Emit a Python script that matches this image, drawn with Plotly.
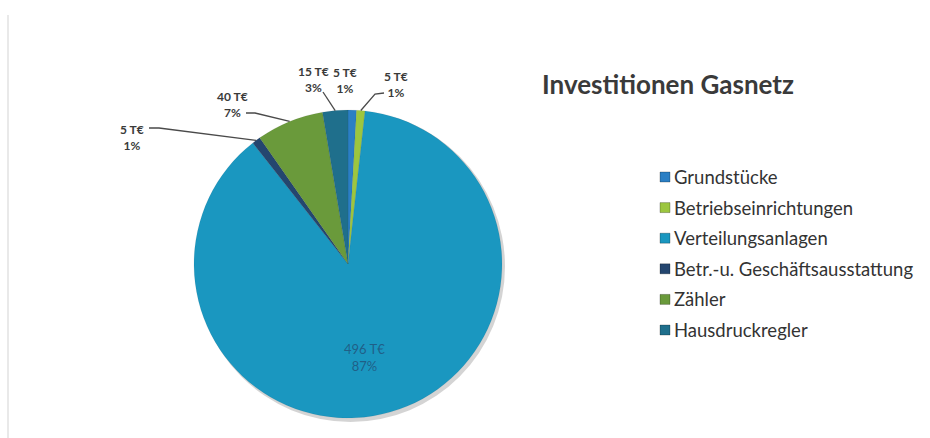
import math
import plotly.graph_objects as go

# Investment categories and amounts (T€)
categories = [
    "Grundstücke",
    "Betriebseinrichtungen",
    "Verteilungsanlagen",
    "Betr.-u. Geschäftsausstattung",
    "Zähler",
    "Hausdruckregler",
]
values_teur = [5, 5, 496, 5, 40, 15]
percent_labels = [1, 1, 87, 1, 7, 3]
colors = ["#2b7fc4", "#9cc63f", "#1a97c0", "#24466f", "#6a9a3b", "#1f6f8c"]

W, H = 930, 438
CX, CY, R = 348, 264, 154  # pie centre and radius in pixels


def px(x):
    return x / W


def py(y):
    return 1 - y / H


total = sum(values_teur)


def edge_point(i, frac=1.0):
    """Point on the ray through the middle of slice i (clockwise from 12 o'clock)."""
    start = sum(values_teur[:i]) / total * 360
    mid = math.radians(start + values_teur[i] / total * 180)
    return CX + frac * R * math.sin(mid), CY - frac * R * math.cos(mid)


fig = go.Figure()
fig.add_trace(go.Pie(
    labels=categories,
    values=values_teur,
    marker=dict(colors=colors, line=dict(color="rgba(0,0,0,0.12)", width=0.5)),
    sort=False,
    direction="clockwise",
    rotation=0,
    textinfo="none",
    hoverinfo="label+value+percent",
    showlegend=False,
    domain=dict(x=[px(CX - R), px(CX + R)], y=[py(CY + R), py(CY - R)]),
))

shapes = []
annotations = []

# soft shadow under the pie
shapes.append(dict(
    type="circle", xref="paper", yref="paper", layer="below",
    x0=px(CX - R + 2), x1=px(CX + R + 3), y0=py(CY + R + 4), y1=py(CY - R + 1),
    fillcolor="rgba(60,60,60,0.22)", line=dict(width=0),
))

# faint chart frame on the left
shapes.append(dict(
    type="line", xref="paper", yref="paper",
    x0=px(8), x1=px(8), y0=py(15), y1=py(438),
    line=dict(color="#e9e9e9", width=2),
))

# outside data labels: text centre and elbow of the leader line
label_layout = {
    0: dict(text=(345, 81), line=None),
    1: dict(text=(396, 84), line=[(384, 93), (375, 94)]),
    3: dict(text=(132, 137), line=[(149, 128), (159, 128)]),
    4: dict(text=(232, 105), line=[(246, 113), (255, 113)]),
    5: dict(text=(313, 79), line=[(323, 92)]),
}
for i, spec in label_layout.items():
    tx, ty = spec["text"]
    annotations.append(dict(
        xref="paper", yref="paper", x=px(tx), y=py(ty),
        text=f"{values_teur[i]} T€<br>{percent_labels[i]}%",
        showarrow=False, xanchor="center", yanchor="middle",
        font=dict(family="Lato", size=12, color="#3a3a3a", weight="bold"),
    ))
    if spec["line"]:
        ex, ey = edge_point(i)
        pts = spec["line"] + [(ex, ey)]
        path = "M " + " L ".join(f"{px(x):.5f},{py(y):.5f}" for x, y in pts)
        shapes.append(dict(type="path", xref="paper", yref="paper", path=path,
                           line=dict(color="#4a4a4a", width=1.3)))

# label inside the large slice
ix, iy = edge_point(2, 0.63)
annotations.append(dict(
    xref="paper", yref="paper", x=px(ix - 10), y=py(iy),
    text=f"{values_teur[2]} T€<br>{percent_labels[2]}%",
    showarrow=False, xanchor="center", yanchor="middle",
    font=dict(family="Lato", size=13, color="rgba(35,70,110,0.7)"),
))

# title
annotations.append(dict(
    xref="paper", yref="paper", x=px(668), y=py(84),
    text="<b>Investitionen Gasnetz</b>", showarrow=False,
    xanchor="center", yanchor="middle",
    font=dict(family="Lato", size=26, color="#3a3a3a"),
))

# legend
LEG_X, LEG_Y0, LEG_DY, SQ = 660, 177, 30.6, 10
for i, name in enumerate(categories):
    y = LEG_Y0 + i * LEG_DY
    shapes.append(dict(
        type="rect", xref="paper", yref="paper",
        x0=px(LEG_X), x1=px(LEG_X + SQ), y0=py(y + SQ / 2), y1=py(y - SQ / 2),
        fillcolor=colors[i], line=dict(color="rgba(0,0,0,0.25)", width=1),
    ))
    annotations.append(dict(
        xref="paper", yref="paper", x=px(LEG_X + SQ + 2), y=py(y),
        text=name, showarrow=False, xanchor="left", yanchor="middle",
        font=dict(family="Lato", size=18.5, color="#333333"),
    ))

fig.update_layout(
    width=W, height=H,
    margin=dict(l=0, r=0, t=0, b=0),
    paper_bgcolor="white", plot_bgcolor="white",
    shapes=shapes, annotations=annotations,
    showlegend=False,
)

fig.write_html("out.html")
